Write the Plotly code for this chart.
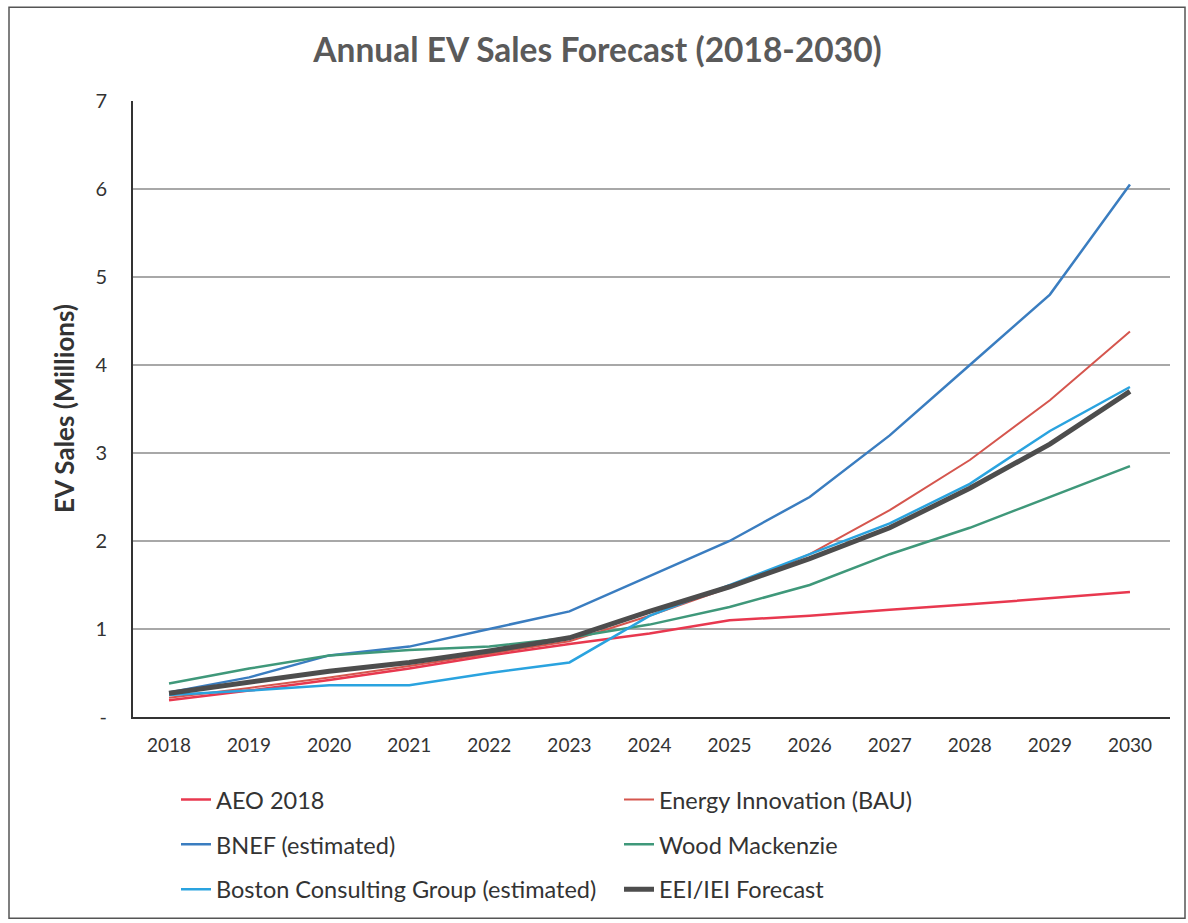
import plotly.graph_objects as go

years = ["2018", "2019", "2020", "2021", "2022", "2023", "2024",
         "2025", "2026", "2027", "2028", "2029", "2030"]

aeo_2018 = [0.19, 0.30, 0.42, 0.55, 0.70, 0.83, 0.95, 1.10, 1.15, 1.22, 1.28, 1.35, 1.42]
energy_innovation = [0.22, 0.33, 0.45, 0.58, 0.72, 0.86, 1.15, 1.47, 1.85, 2.35, 2.92, 3.60, 4.38]
bnef = [0.28, 0.45, 0.70, 0.80, 1.00, 1.20, 1.60, 2.00, 2.50, 3.20, 4.00, 4.80, 6.05]
wood_mackenzie = [0.38, 0.55, 0.70, 0.76, 0.80, 0.90, 1.05, 1.25, 1.50, 1.85, 2.15, 2.50, 2.85]
bcg = [0.25, 0.30, 0.36, 0.36, 0.50, 0.62, 1.15, 1.50, 1.85, 2.20, 2.65, 3.25, 3.75]
eei_iei = [0.27, 0.40, 0.52, 0.62, 0.75, 0.90, 1.20, 1.48, 1.80, 2.15, 2.60, 3.10, 3.70]

y_tickvals = [0, 1, 2, 3, 4, 5, 6, 7]
y_ticktext = ["-", "1", "2", "3", "4", "5", "6", "7"]

series = [
    ("AEO 2018", aeo_2018, "#e8384f", 2.5, "legend"),
    ("Energy Innovation (BAU)", energy_innovation, "#d5564e", 2.0, "legend"),
    ("BNEF (estimated)", bnef, "#3a7dc0", 2.5, "legend2"),
    ("Wood Mackenzie", wood_mackenzie, "#3f987a", 2.5, "legend2"),
    ("Boston Consulting Group (estimated)", bcg, "#2aa3df", 2.5, "legend3"),
    ("EEI/IEI Forecast", eei_iei, "#4d4d4d", 5.0, "legend3"),
]

fig = go.Figure()
for name, vals, color, width, leg in series:
    fig.add_trace(go.Scatter(
        x=years, y=vals, mode="lines", name=name,
        line=dict(color=color, width=width),
        legend=leg,
    ))

W, H = 1188, 923
L, R, T, B = 133, 1170, 101, 719
pw, ph = R - L, B - T

def px_x(px):
    return (px - L) / pw

def px_y(py):
    return (B - py) / ph

font_family = "Lato, 'Open Sans', sans-serif"
text_color = "#333333"
legend_common = dict(
    orientation="h", xanchor="left", yanchor="middle",
    x=px_x(176), entrywidth=398, entrywidthmode="pixels",
    font=dict(family=font_family, size=23.5, color=text_color),
    bgcolor="rgba(0,0,0,0)", traceorder="normal",
)

fig.update_layout(
    width=W, height=H,
    margin=dict(l=L, r=W - R, t=T, b=H - B),
    paper_bgcolor="white", plot_bgcolor="white",
    title=dict(
        text="<b>Annual EV Sales Forecast (2018-2030)</b>",
        x=0.503, xref="container", y=1 - 50 / H, yref="container",
        xanchor="center", yanchor="middle",
        font=dict(family=font_family, size=33.5, color="#5a5a5a"),
    ),
    xaxis=dict(
        type="category", range=[-0.45, 12.5],
        showgrid=False, showline=True, linecolor=text_color, linewidth=2,
        ticks="", ticklabelstandoff=10,
        tickfont=dict(family=font_family, size=19, color=text_color),
        zeroline=False,
    ),
    yaxis=dict(
        range=[0, 7], tickvals=y_tickvals, ticktext=y_ticktext,
        showgrid=True, gridcolor="#a8a8a8", gridwidth=1.5,
        showline=True, linecolor=text_color, linewidth=2,
        zeroline=False, ticks="", ticklabelstandoff=20,
        tickfont=dict(family=font_family, size=20, color=text_color),
    ),
    annotations=[dict(
        text="<b>EV Sales (Millions)</b>", textangle=-90,
        xref="paper", yref="paper", x=px_x(64), y=0.5,
        xanchor="center", yanchor="middle", showarrow=False,
        font=dict(family=font_family, size=26, color=text_color),
    )],
    legend=dict(**legend_common, y=px_y(802)),
    legend2=dict(**legend_common, y=px_y(847)),
    legend3=dict(**legend_common, y=px_y(892)),
    shapes=[dict(
        type="rect", xref="paper", yref="paper",
        x0=px_x(9), x1=px_x(1185), y0=px_y(921), y1=px_y(7),
        line=dict(color="#555555", width=1.5), fillcolor="rgba(0,0,0,0)",
        layer="below",
    )],
)

fig.write_html("out.html")
